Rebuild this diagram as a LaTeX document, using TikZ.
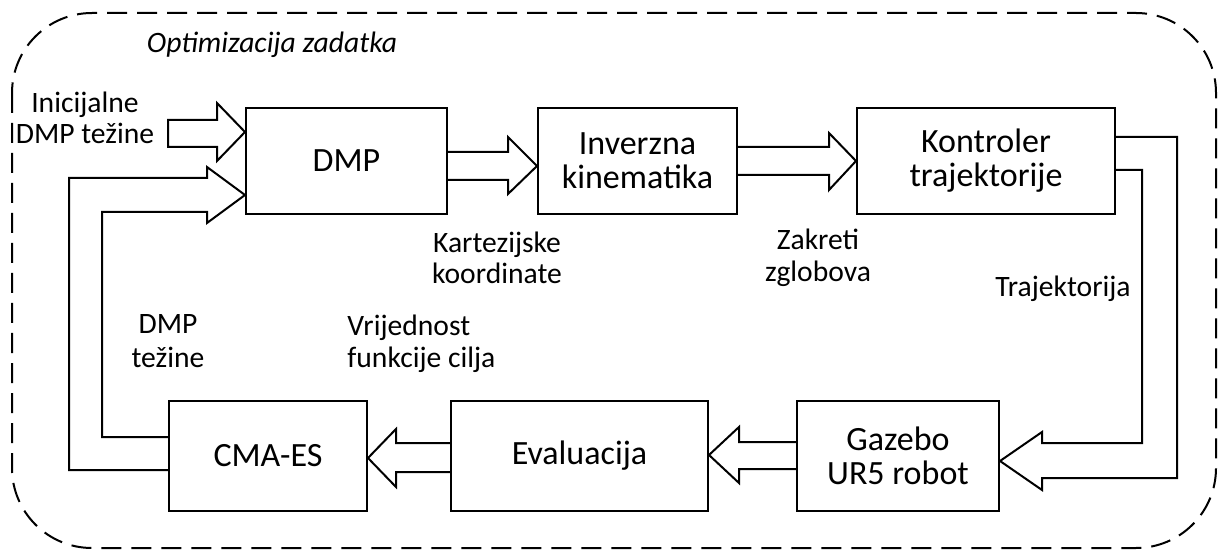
\documentclass[tikz,border=0pt]{standalone}
\usepackage{fontspec}
\setmainfont{Carlito}
\begin{document}
\begin{tikzpicture}[x=0.5pt,y=-0.5pt,
  line join=miter,
  box/.style={draw, line width=1pt, inner sep=0pt, align=center,
    font=\fontsize{17}{17}\selectfont},
  lbl/.style={inner sep=0pt, align=center, font=\fontsize{14.8}{15.8}\selectfont},
  barrow/.style={draw, line width=1pt}]
\useasboundingbox (0,0) rectangle (1219,550);
\draw[line width=1pt, dash pattern=on 10pt off 5pt, rounded corners=40pt]
  (12,13) rectangle (1216,548);
\node[lbl, font=\fontsize{14.8}{16}\itshape] (title) at (272,45) {Optimizacija zadatka};
% boxes
\node[box, minimum width=100.5pt, minimum height=53pt] (dmp) at (346.5,161) {DMP};
\node[box, minimum width=99.5pt, minimum height=53pt] (ik) at (637.5,161) {Inverzna\\kinematika};
\node[box, minimum width=129pt, minimum height=53pt] (kt) at (986,161) {Kontroler\\trajektorije};
\node[box, minimum width=99pt, minimum height=55pt] (cma) at (268,456) {CMA-ES};
\node[box, minimum width=128.5pt, minimum height=55pt] (ev) at (579.5,456) {Evaluacija};
\node[box, minimum width=101pt, minimum height=55pt] (gz) at (898,456) {Gazebo\\UR5 robot};
% labels
\node[lbl] (init) at (85,118) {Inicijalne\\DMP težine};
\node[lbl] (kart) at (497,258) {Kartezijske\\koordinate};
\node[lbl] (zak) at (818,258) {Zakreti\\zglobova};
\node[lbl] (traj) at (1063,289) {Trajektorija};
\node[lbl, font=\fontsize{14.8}{16.8}\selectfont] (dmpw) at (168,341) {DMP\\težine};
\node[lbl, align=left, anchor=west] (vrij) at (347,344) {Vrijednost\\funkcije cilja};
% block arrows
\draw[barrow] (168,120) -- (217,120) -- (217,103) -- (dmp.west|-0,132) -- (217,161) -- (217,147) -- (168,147) -- cycle;
\draw[barrow] (dmp.east|-0,152) -- (508,152) -- (508,137) -- (ik.west|-0,166) -- (508,194) -- (508,180) -- (dmp.east|-0,180);
\draw[barrow] (ik.east|-0,147) -- (829,147) -- (829,133) -- (kt.west|-0,161) -- (829,190) -- (829,175) -- (ik.east|-0,175);
\draw[barrow] (kt.east|-0,137) -- (1177,137) -- (1177,478) -- (1042,478) -- (1042,490) -- (gz.east|-0,461) -- (1042,432) -- (1042,443) -- (1142,443) -- (1142,170) -- (kt.east|-0,170);
\draw[barrow] (gz.west|-0,442) -- (739,442) -- (739,427) -- (ev.east|-0,455) -- (739,483) -- (739,469) -- (gz.west|-0,469);
\draw[barrow] (ev.west|-0,443) -- (396,443) -- (396,429) -- (cma.east|-0,458) -- (396,487) -- (396,472) -- (ev.west|-0,472);
\draw[barrow] (cma.west|-0,470) -- (69,470) -- (69,178) -- (207,178) -- (207,167) -- (dmp.west|-0,195) -- (207,223) -- (207,212) -- (102,212) -- (102,437) -- (cma.west|-0,437);
\end{tikzpicture}
\end{document}
